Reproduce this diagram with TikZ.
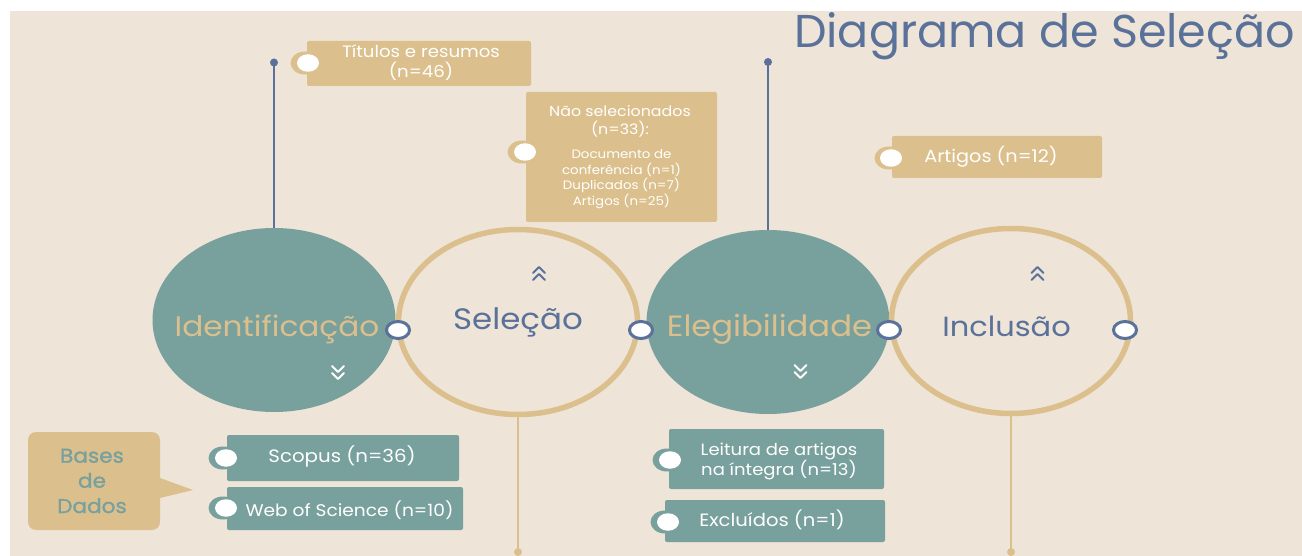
\documentclass[tikz,border=0pt]{standalone}
\usepackage{fontspec}
\setmainfont{Poppins}[FakeStretch=1.1]
\newfontfamily\titlefont{Poppins}
\newfontfamily\basesfont{Poppins}[FakeStretch=1.08, FakeBold=1.2]
\usetikzlibrary{shapes.geometric}
\definecolor{bgc}{HTML}{EEE4D8}
\definecolor{tealc}{HTML}{78A09D}
\definecolor{goldc}{HTML}{DBC08D}
\definecolor{bluec}{HTML}{5A7199}
\newcommand\upchev[3]{\draw[#3, line width=1.8pt, line cap=round, line join=round] ({#1-6},{#2+6}) -- (#1,#2) -- ({#1+6},{#2+6}) ({#1-6},{#2+13}) -- (#1,{#2+7}) -- ({#1+6},{#2+13});}
\newcommand\downchev[3]{\draw[#3, line width=1.8pt, line cap=round, line join=round] ({#1-6},#2) -- (#1,{#2+6}) -- ({#1+6},#2) ({#1-6},{#2+7}) -- (#1,{#2+13}) -- ({#1+6},{#2+7});}
\begin{document}
\begin{tikzpicture}[x=1pt,y=-1pt,
  fillstage/.style={ellipse, fill=tealc, inner sep=0pt, minimum width=243pt, minimum height=184pt},
  ringstage/.style={ellipse, draw=goldc, line width=5.5pt, inner sep=0pt, minimum width=239pt, minimum height=185pt},
  junction/.style={ellipse, draw=bluec, line width=3pt, fill=white, inner sep=0pt, minimum width=23pt, minimum height=17pt},
  goldbox/.style={rectangle, fill=goldc, rounded corners=2pt, inner sep=0pt},
  tealbox/.style={rectangle, fill=tealc, rounded corners=2pt, inner sep=0pt},
  bubgold/.style={ellipse, fill=goldc, inner sep=0pt, minimum width=29pt, minimum height=23pt},
  bubteal/.style={ellipse, fill=tealc, inner sep=0pt, minimum width=29pt, minimum height=23pt},
  bubwhite/.style={ellipse, fill=white, inner sep=0pt, minimum width=22pt, minimum height=17.5pt},
  bluedot/.style={circle, fill=bluec, inner sep=0pt, minimum size=8pt},
  golddot/.style={circle, fill=goldc, inner sep=0pt, minimum size=8pt},
  stagetxt/.style={anchor=base, inner sep=0pt, font=\fontsize{#1}{#1}\selectfont},
  boxtxt/.style={anchor=base, inner sep=0pt, text=white, font=\fontsize{#1}{#1}\selectfont},
  basestxt/.style={anchor=base, inner sep=0pt, text=tealc, font=\basesfont\fontsize{20}{20}\selectfont},
  bluelink/.style={draw=bluec, line width=2pt},
  goldlink/.style={draw=goldc, line width=2.5pt}
]
\fill[white] (0,0) rectangle (1302,556);
\fill[bgc] (10,11) rectangle (1302,556);
\useasboundingbox (0,0) rectangle (1302,556);

% title
\node[anchor=base, inner sep=0pt, text=bluec, font=\titlefont\fontsize{46}{48}\selectfont] (title) at (1044.5,48) {Diagrama de Seleção};

% stages
\node[fillstage] (ident) at (274,320) {};
\node[ringstage] (sel) at (518,322) {};
\node[fillstage] (eleg) at (768,322) {};
\node[ringstage] (incl) at (1011,321) {};

\node[stagetxt=28.3, text=goldc] (identtxt) at (277,336.5) {Identificação};
\node[stagetxt=29.5, text=bluec] (seltxt) at (518,330) {Seleção};
\node[stagetxt=29.3, text=goldc] (elegtxt) at (769.5,337) {Elegibilidade};
\node[stagetxt=27.7, text=bluec] (incltxt) at (1006.5,337) {Inclusão};

\upchev{539}{267}{bluec}
\upchev{1037.5}{267}{bluec}
\downchev{338}{366}{white}
\downchev{800.5}{365}{white}

\node[junction] (j1) at (398,330) {};
\node[junction] (j2) at (641,330) {};
\node[junction] (j3) at (889,330) {};
\node[junction] (j4) at (1125,330) {};

% vertical links
\node[bluedot] (d1) at (ident.north |- 0,62.5) {};
\node[bluedot] (d2) at (eleg.north |- 0,62) {};
\draw[bluelink] (d1.center) -- (ident.north);
\draw[bluelink] (d2.center) -- (eleg.north);
\node[golddot] (d3) at (sel.south |- 0,552) {};
\node[golddot] (d4) at (incl.south |- 0,552) {};
\draw[goldlink] (sel.south) -- (d3.center);
\draw[goldlink] (incl.south) -- (d4.center);

% Titulos
\node[goldbox, minimum width=224pt, minimum height=45pt] (tit) at (419,63.5) {};
\node[bubgold] (titb) at (305,63) {};
\node[bubwhite] (titw) at (308,63) {};
\node[boxtxt=16.5] (tit1) at (421,58) {Títulos e resumos};
\node[boxtxt=16.5] (tit2) at (421,77.5) {(n=46)};

% Nao selecionados
\node[goldbox, minimum width=191pt, minimum height=130pt] (nao) at (621.5,157) {};
\node[bubgold] (naob) at (522,152) {};
\node[bubwhite] (naow) at (525,152) {};
\node[boxtxt=14.4] (nao1) at (620,116.7) {Não selecionados};
\node[boxtxt=14.4] (nao2) at (620,135) {(n=33):};
\node[boxtxt=12.2] (nao3) at (621.5,158.3) {Documento de};
\node[boxtxt=12.2] (nao4) at (621.5,174.3) {conferência (n=1)};
\node[boxtxt=12.2] (nao5) at (621.5,190) {Duplicados (n=7)};
\node[boxtxt=12.2] (nao6) at (621.5,205.7) {Artigos (n=25)};

% Artigos 12
\node[goldbox, minimum width=210pt, minimum height=42pt] (art) at (997,157) {};
\node[bubgold] (artb) at (889,158) {};
\node[bubwhite] (artw) at (891,158) {};
\node[boxtxt=17.5] (arttxt) at (991,163) {Artigos (n=12)};

% Bases de dados
\fill[goldc] (160,478) -- (193,490) -- (160,498) -- cycle;
\node[goldbox, rounded corners=8pt, minimum width=132pt, minimum height=98pt] (bases) at (94,481) {};
\node[basestxt] (bases1) at (92,462.7) {Bases};
\node[basestxt] (bases2) at (92,487.7) {de};
\node[basestxt] (bases3) at (92,513) {Dados};

% Scopus / WoS
\node[tealbox, minimum width=232pt, minimum height=46pt] (scop) at (343,458) {};
\node[bubteal] (scopb) at (223,458) {};
\node[bubwhite] (scopw) at (226,458) {};
\node[boxtxt=18] (scoptxt) at (342,462.5) {Scopus (n=36)};
\node[tealbox, minimum width=236pt, minimum height=43pt] (wos) at (345,508.5) {};
\node[bubteal] (wosb) at (223,508) {};
\node[bubwhite] (wosw) at (226,508) {};
\node[boxtxt=16.9] (wostxt) at (349.5,516) {Web of Science (n=10)};

% Leitura / Excluidos
\node[tealbox, minimum width=215pt, minimum height=60pt] (leit) at (776.5,459) {};
\node[bubteal] (leitb) at (667,460) {};
\node[bubwhite] (leitw) at (670,460) {};
\node[boxtxt=16.4] (leit1) at (779,455.7) {Leitura de artigos};
\node[boxtxt=16.4] (leit2) at (779,475.7) {na íntegra (n=13)};
\node[tealbox, minimum width=220pt, minimum height=42pt] (excl) at (775,521) {};
\node[bubteal] (exclb) at (665,522) {};
\node[bubwhite] (exclw) at (668,522) {};
\node[boxtxt=17.8] (excltxt) at (772,526) {Excluídos (n=1)};
\end{tikzpicture}
\end{document}
